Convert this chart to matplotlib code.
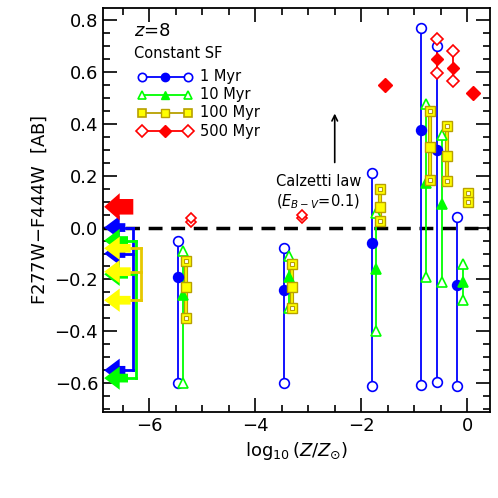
import numpy as np
import matplotlib.pyplot as plt
from matplotlib.ticker import MultipleLocator

# metallicity tracks: (x, top, filled, bottom)
blue_x = [-5.45, -3.45, -1.80, -0.87, -0.57, -0.19]
blue_top = [-0.05, -0.08, 0.21, 0.77, 0.70, 0.04]
blue_mid = [-0.19, -0.24, -0.06, 0.375, 0.30, -0.22]
blue_bot = [-0.60, -0.60, -0.61, -0.605, -0.595, -0.61]

green_x = [-5.37, -3.37, -1.72, -0.78, -0.48, -0.08]
green_top = [-0.09, -0.11, 0.055, 0.475, 0.355, -0.14]
green_mid = [-0.26, -0.19, -0.16, 0.17, 0.09, -0.21]
green_bot = [-0.60, -0.31, -0.40, -0.19, -0.21, -0.28]

yellow_x = [-5.30, -3.30, -1.64, -0.70, -0.38]
yellow_top = [-0.13, -0.14, 0.15, 0.45, 0.39]
yellow_mid = [-0.23, -0.23, 0.08, 0.31, 0.275]
yellow_bot = [-0.35, -0.31, 0.025, 0.185, 0.18]
yellow_extra_x = [0.02, 0.02]
yellow_extra_y = [0.135, 0.10]

red_x = [-0.57, -0.26]
red_top = [0.725, 0.68]
red_mid = [0.65, 0.615]
red_bot = [0.595, 0.565]
red_open_x = [-5.22, -5.22, -3.12, -3.12]
red_open_y = [0.02, 0.035, 0.035, 0.05]
red_fill_x = [-1.55, 0.11]
red_fill_y = [0.55, 0.52]

# upper limits (arrows at left edge)
arrow_blue = [0.0, -0.10, -0.55]
arrow_green = [-0.05, -0.18, -0.58]
arrow_yellow = [-0.08, -0.17, -0.28]
arrow_red = [0.08]

BLUE, GREEN, YEL, YEDGE, RED = '#0000ff', '#00ff00', '#ffff00', '#b8a000', '#ff0000'

fig, ax = plt.subplots(figsize=(4.98, 4.98), dpi=100)
fig.subplots_adjust(left=0.207, right=0.984, bottom=0.173, top=0.984)

ax.axhline(0, color='black', lw=2.5, ls=(0, (4, 2.5)), zorder=1)

def track(xs, tops, mids, bots, color, marker, ms):
    for x, t, m, b in zip(xs, tops, mids, bots):
        ax.plot([x, x], [b, t], color=color, lw=1.3, zorder=2)
        ax.plot([x, x], [t, b], ls='none', marker=marker, ms=ms, mfc='white',
                mec=color, mew=1.2, zorder=3)
        ax.plot([x], [m], ls='none', marker=marker, ms=ms, mfc=color, mec=color, mew=1.2, zorder=3)

track(blue_x, blue_top, blue_mid, blue_bot, BLUE, 'o', 7)
track(green_x, green_top, green_mid, green_bot, GREEN, '^', 6.5)
for x, t, m, b in zip(yellow_x, yellow_top, yellow_mid, yellow_bot):
    ax.plot([x, x], [b, t], color=YEDGE, lw=3, zorder=2)
    ax.plot([x, x], [b, t], color=YEL, lw=1.2, zorder=2)
    ax.plot([x, x], [t, b], ls='none', marker='s', ms=7, mfc=YEL, mec=YEDGE, mew=1, zorder=3)
    ax.plot([x, x], [t, b], ls='none', marker='s', ms=3.5, mfc='white', mec=YEDGE, mew=0.8, zorder=4)
    ax.plot([x], [m], ls='none', marker='s', ms=7, mfc=YEL, mec=YEDGE, mew=1, zorder=4)
ax.plot(yellow_extra_x, yellow_extra_y, ls='none', marker='s', ms=7, mfc=YEL, mec=YEDGE, zorder=3)
ax.plot(yellow_extra_x, yellow_extra_y, ls='none', marker='s', ms=3.5, mfc='white', mec=YEDGE, mew=0.8, zorder=4)

for x, t, m, b in zip(red_x, red_top, red_mid, red_bot):
    ax.plot([x, x], [b, t], color=RED, lw=1.3, zorder=2)
    ax.plot([x, x], [t, b], ls='none', marker='D', ms=6, mfc='white', mec=RED, mew=1.2, zorder=3)
    ax.plot([x], [m], ls='none', marker='D', ms=6, mfc=RED, mec=RED, zorder=3)
ax.plot(red_open_x, red_open_y, ls='none', marker='D', ms=5, mfc='white', mec=RED, mew=1.2, zorder=3)
ax.plot(red_fill_x, red_fill_y, ls='none', marker='D', ms=7, mfc=RED, mec=RED, zorder=3)

# limit arrows and brackets
def arrows(ys, color, x0, xbar, ec=None):
    ax.plot([xbar, xbar], [max(ys), min(ys)], color=ec or color, lw=2, zorder=4)
    for y in ys:
        ax.plot([x0, xbar], [y, y], color=ec or color, lw=2, zorder=4)
        ax.annotate('', xy=(-6.85, y), xytext=(x0, y),
                    arrowprops=dict(arrowstyle='simple,head_width=1.2,head_length=0.8,tail_width=0.45',
                                    mutation_scale=14, color=color, lw=0, shrinkA=0, shrinkB=0),
                    zorder=5)

arrows(arrow_blue, BLUE, -6.45, -6.3)
arrows(arrow_green, GREEN, -6.4, -6.25)
arrows(arrow_yellow, YEL, -6.35, -6.15, ec='#e6c800')
ax.annotate('', xy=(-6.85, arrow_red[0]), xytext=(-6.3, arrow_red[0]),
            arrowprops=dict(arrowstyle='simple,head_width=1.4,head_length=0.8,tail_width=0.8',
                            mutation_scale=14, color=RED, lw=0, shrinkA=0, shrinkB=0), zorder=5)

# Calzetti arrow
ax.annotate('', xy=(-2.5, 0.45), xytext=(-2.5, 0.24),
            arrowprops=dict(arrowstyle='->', color='black', lw=1.2))
ax.text(-3.6, 0.16, 'Calzetti law', fontsize=10.5)
ax.text(-3.6, 0.08, r'($E_{B-V}$=0.1)', fontsize=10.5)

# legend drawn by hand
tr = ax.transAxes
ax.text(0.08, 0.93, r'$z$=8', transform=tr, fontsize=13)
ax.text(0.08, 0.875, 'Constant SF', transform=tr, fontsize=10.5)
leg = [('1 Myr', BLUE, 'o', 'white', BLUE, BLUE),
       ('10 Myr', GREEN, '^', 'white', GREEN, GREEN),
       ('100 Myr', YEDGE, 's', YEL, YEDGE, YEL),
       ('500 Myr', RED, 'D', 'white', RED, RED)]
for i, (lab, lc, mk, mo, mec, mf) in enumerate(leg):
    yy = 0.83 - i * 0.045
    ax.plot([0.10, 0.22], [yy, yy], color=lc, lw=1.3, transform=tr)
    ax.plot([0.10, 0.22], [yy, yy], ls='none', marker=mk, ms=6, mfc=mo, mec=mec, mew=1.2, transform=tr)
    ax.plot([0.16], [yy], ls='none', marker=mk, ms=6, mfc=mf, mec=mec, transform=tr)
    ax.text(0.25, yy, lab, transform=tr, fontsize=10.5, va='center')

ax.set_xlim(-6.87, 0.43)
ax.set_ylim(-0.71, 0.846)
ax.xaxis.set_major_locator(MultipleLocator(2))
ax.xaxis.set_minor_locator(MultipleLocator(0.5))
ax.yaxis.set_major_locator(MultipleLocator(0.2))
ax.yaxis.set_minor_locator(MultipleLocator(0.05))
ax.tick_params(which='both', direction='in', top=True, right=True, labelsize=13, width=1.2)
ax.tick_params(which='major', length=10)
ax.tick_params(which='minor', length=5)
for s in ax.spines.values():
    s.set_linewidth(1.3)
ax.set_xlabel(r'$\log_{10}(Z/Z_{\odot})$', fontsize=13)
ax.set_ylabel(r'F277W$-$F444W  [AB]', fontsize=13)

fig.savefig('out.png', dpi=100)
